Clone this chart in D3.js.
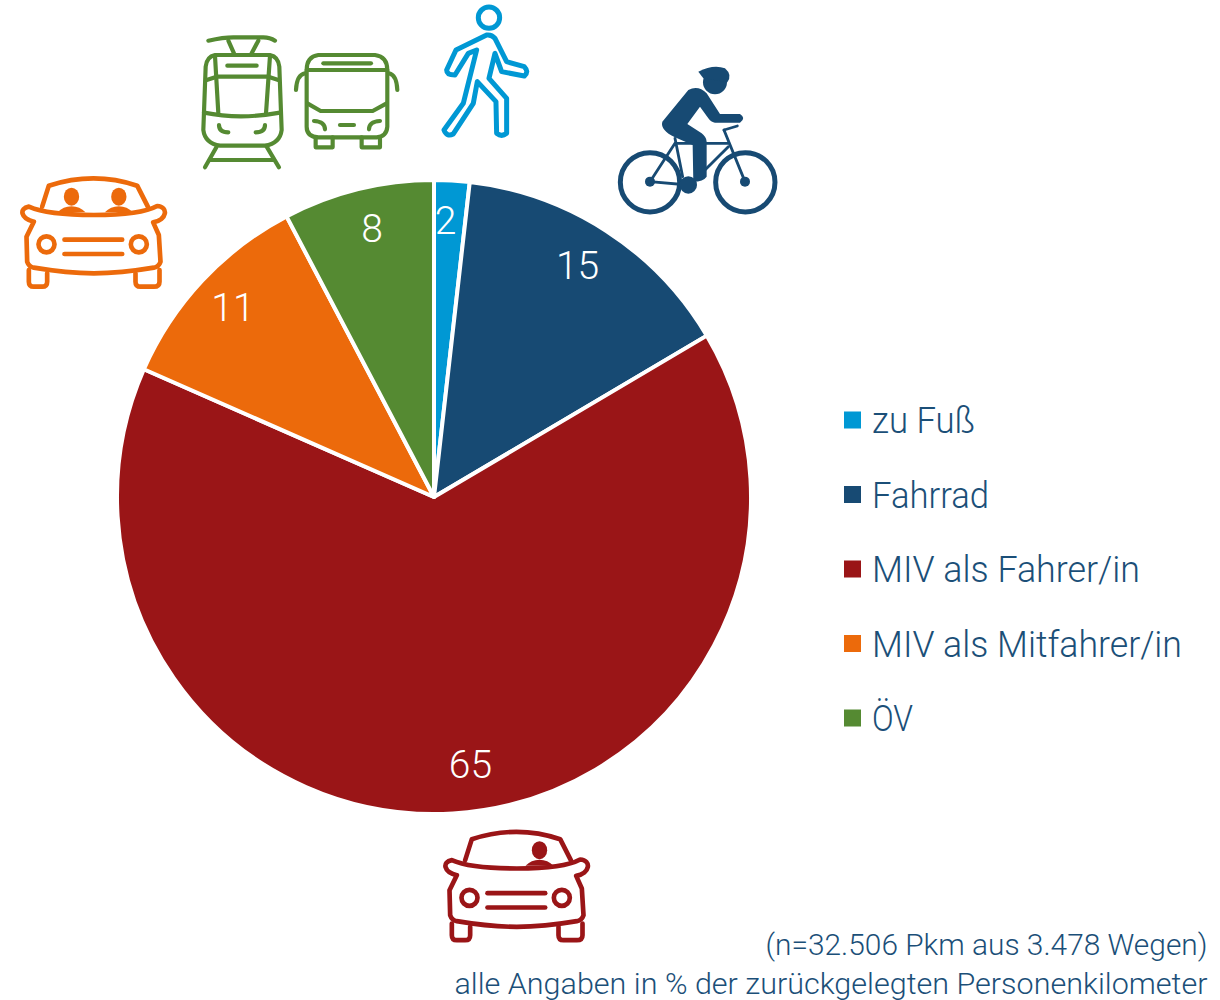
<!DOCTYPE html>
<html><head><meta charset="utf-8">
<script src="https://cdn.jsdelivr.net/npm/d3@7"></script>
<style>html,body{margin:0;padding:0;background:#fff}svg{display:block}text{font-family:Roboto,"Open Sans",sans-serif;font-weight:300}</style>
</head><body><svg id="c" width="1220" height="1000"></svg>
<script>
const categories = ["zu Fuß","Fahrrad","MIV als Fahrer/in","MIV als Mitfahrer/in","ÖV"];
const shares = [1.8,14.7,65.1,10.7,7.7];
const labels = ["2","15","65","11","8"];
const colors = ["#0098d4","#174a73","#9a1517","#ec6a0b","#558a32"];
const notes = ["(n=32.506 Pkm aus 3.478 Wegen)","alle Angaben in % der zurückgelegten Personenkilometer"];
const TEXT = "#1b4f78";

const svg = d3.select("#c");
const pie = d3.pie().sort(null).value(d=>d);
const arcs = pie(shares);
const arc = d3.arc().innerRadius(0).outerRadius(317);
const labelArc = d3.arc().innerRadius(275).outerRadius(275);
const g = svg.append("g").attr("transform","translate(434,497)");
g.selectAll("path").data(arcs).join("path").attr("d",arc)
  .attr("fill",(d,i)=>colors[i]).attr("stroke","#fff").attr("stroke-width",4).attr("stroke-linejoin","round");
const nudge = [[-4,-2],[-6,-1],[20,-8],[0,-2],[4,-2]];
g.selectAll("text").data(arcs).join("text")
  .attr("x",(d,i)=>labelArc.centroid(d)[0]+nudge[i][0])
  .attr("y",(d,i)=>labelArc.centroid(d)[1]+nudge[i][1])
  .attr("text-anchor","middle").attr("dy","0.36em").attr("fill","#fff")
  .attr("font-size",39).text((d,i)=>labels[i]);

// legend
const ly = d3.scalePoint().domain(categories).range([420,718]);
const legendW = [103,117,268,310,41];
const lg = svg.append("g");
lg.selectAll("rect").data(categories).join("rect")
  .attr("x",844).attr("y",d=>ly(d)-8.5).attr("width",17).attr("height",17).attr("fill",(d,i)=>colors[i]);
lg.selectAll("text").data(categories).join("text")
  .attr("x",872).attr("y",d=>ly(d)+13).attr("font-size",36).attr("fill",TEXT)
  .attr("textLength",(d,i)=>legendW[i]).attr("lengthAdjust","spacingAndGlyphs").text(d=>d);

// notes
const noteW=[442,753];
svg.selectAll("text.n").data(notes).join("text").attr("class","n")
  .attr("x",(d,i)=>1207.5-noteW[i]).attr("y",(d,i)=>955+i*39).attr("font-size",30).attr("fill",TEXT)
  .attr("textLength",(d,i)=>noteW[i]).attr("lengthAdjust","spacingAndGlyphs").text(d=>d);

// icons
function line(g,c,w,ds){g.selectAll(null).data(ds).join("path").attr("d",d=>d).attr("fill","none")
  .attr("stroke",c).attr("stroke-width",w).attr("stroke-linecap","round").attr("stroke-linejoin","round");}
const carBase=[
 "M95,125 L115,62 Q250,18 380,62 L412,125",
 "M70,170 C30,160 25,130 55,125 C100,145 180,150 250,150 C320,150 400,145 440,123 C475,125 470,165 428,172 L445,210 L450,290 Q445,305 430,308 Q330,325 250,325 Q170,325 70,308 Q55,305 50,290 L48,215 Z",
 "M55,315 L55,350 Q55,365 70,365 L95,365 Q110,365 110,350 L110,325",
 "M375,325 L375,350 Q375,365 390,365 L430,365 Q447,365 447,350 L447,315",
 "M162,224 L335,224","M162,267 L335,267"];
function car(tx,ty,c,people){
  const g=svg.append("g").attr("transform",`translate(${tx},${ty}) scale(${1/3})`);
  line(g,c,14,carBase);
  g.selectAll("circle").data([108,385]).join("circle").attr("cx",d=>d).attr("cy",238).attr("r",24)
    .attr("fill","none").attr("stroke",c).attr("stroke-width",14);
  people.forEach(x=>{
    g.append("ellipse").attr("cx",x).attr("cy",95).attr("rx",23).attr("ry",27).attr("fill",c);
    g.append("path").attr("d",`M${x-42},142 Q${x-25},124 ${x},124 Q${x+25},124 ${x+42},142 Z`).attr("fill",c);
  });
}
car(10.5,165,"#ec6a0b",[183,325]);
car(433.5,818.5,"#9a1517",[318]);

const tram=svg.append("g").attr("transform","translate(190,0) scale(0.3333)");
line(tram,"#558a32",12.5,[
 "M55,122 Q100,112 130,112 L220,112 Q240,112 255,122","M115,122 L132,160","M205,122 L185,160",
 "M75,165 L240,165 Q265,170 268,200 L275,390 Q270,430 225,437 L90,437 Q45,430 40,390 L47,200 Q50,170 75,165 Z",
 "M75,168 L85,340","M240,168 L228,340","M50,240 L80,230 L235,230 L265,240","M42,338 Q150,360 270,338",
 "M112,197 L200,197","M87,375 Q87,397 115,397","M225,375 Q225,397 197,397",
 "M80,440 L45,502","M230,440 L267,502","M60,480 L250,480",
 // bus
 "M385,165 L555,165 Q592,170 592,210 L592,380 Q590,410 560,412 L385,412 Q350,410 350,380 L350,210 Q350,170 385,165 Z",
 "M350,210 L592,210","M400,190 L543,190","M352,310 L392,333 L548,333 L590,310",
 "M345,220 Q320,225 318,270","M597,220 Q620,225 622,270",
 "M372,363 Q405,365 405,388","M570,363 Q537,365 537,388","M450,375 L492,375",
 "M377,412 L377,442 L428,442 L428,412","M515,412 L515,442 L570,442 L570,412"]);
tram.append("circle").attr("cx",897).attr("cy",53).attr("r",32).attr("fill","none").attr("stroke","#0098d4").attr("stroke-width",15);
line(tram,"#0098d4",15,["M890,105 Q905,103 915,115 L950,185 L1003,200 Q1018,215 1003,228 L935,215 L915,160 L897,235 L950,295 L950,400 Q935,412 920,400 L918,305 L862,245 L850,310 L790,402 Q770,412 762,390 L820,310 L860,150 L835,160 L795,225 Q770,225 770,210 L798,150 Z"]);

const bike=svg.append("g").attr("transform","translate(600,50) scale(0.3333)");
const N="#174a73";
bike.selectAll("circle.w").data([150,436]).join("circle").attr("class","w").attr("cx",d=>d).attr("cy",397).attr("r",89)
  .attr("fill","none").attr("stroke",N).attr("stroke-width",15);
line(bike,N,8.5,["M225,265 L248,380","M230,280 L385,280","M150,395 L225,280","M150,395 L265,405","M385,290 L290,385","M372,240 L435,395","M372,240 L412,228"]);
[[150,395,15],[435,395,15],[265,405,26],[345,97,36]].forEach(a=>bike.append("circle").attr("cx",a[0]).attr("cy",a[1]).attr("r",a[2]).attr("fill",N));
bike.append("path").attr("fill",N).attr("d","M295,65 Q340,42 375,55 Q398,75 382,97 L310,85 Z");
bike.append("path").attr("fill",N).attr("d","M265,120 Q295,105 320,130 L360,192 L420,192 Q440,205 420,218 L345,218 Q335,218 325,205 L300,170 L262,222 L305,250 Q320,262 320,275 L320,380 Q310,395 280,395 L278,285 L225,262 Q180,240 187,215 Z");
</script></body></html>
